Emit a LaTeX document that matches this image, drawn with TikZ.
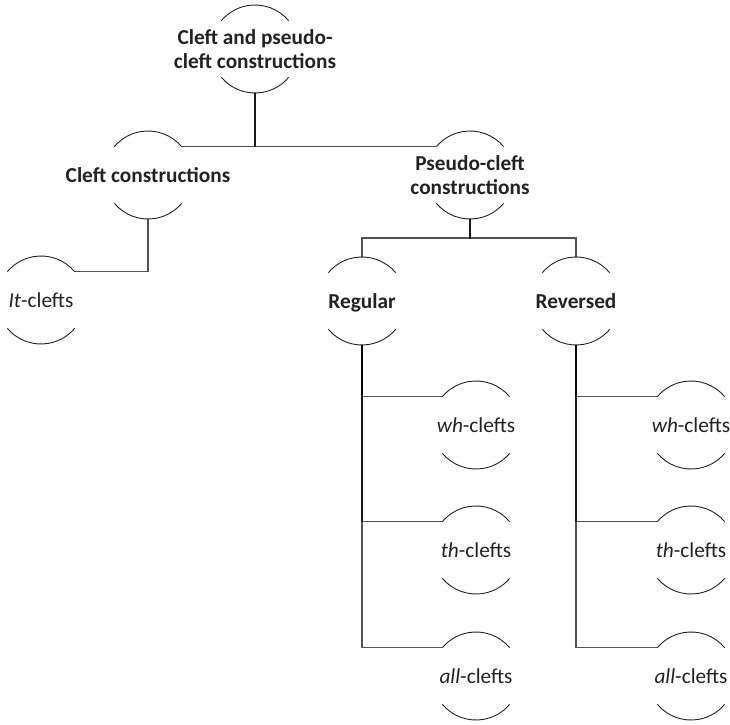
\documentclass[tikz,border=0pt]{standalone}
\usepackage{fontspec}
\setmainfont{Carlito}
\usetikzlibrary{calc}

\definecolor{inkgray}{HTML}{222222}

% a centred, zero-width block of one or more lines; the lines sit 3pt lower
% than the box that the node is centred on
\newcommand\hubtext[1]{\makebox[0pt]{\raisebox{-3pt}[\height][\depth]{\begin{tabular}{@{}c@{}}#1\end{tabular}}}}

\tikzset{
  hub/.style={circle, minimum size=88pt, inner sep=0pt, outer sep=0pt,
    text=inkgray, font=\fontsize{21.3}{23.5}\selectfont},
  boldhub/.style={hub, font=\fontsize{21.3}{23.5}\selectfont\bfseries},
  arcline/.style={draw=inkgray, line width=0.9pt},
  link/.style={draw=black, draw opacity=0.68, line width=1.4pt}
}

\begin{document}
\begin{tikzpicture}[x=1pt, y=1pt]
  \useasboundingbox (0,0) rectangle (730,724);

  % nodes
  \node[boldhub] (root)     at (255,675) {\hubtext{Cleft and pseudo-\\cleft constructions}};
  \node[boldhub] (cleft)    at (148,549) {\hubtext{Cleft constructions}};
  \node[boldhub] (pseudo)   at (470,549) {\hubtext{Pseudo-cleft\\constructions}};
  \node[hub]     (it)       at (41,424)  {\hubtext{\textit{It}-clefts}};
  \node[boldhub] (regular)  at (362,423) {\hubtext{Regular}};
  \node[boldhub] (reversed) at (576,423) {\hubtext{Reversed}};
  \node[hub] (whA)  at (476,299) {\hubtext{\textit{wh}-clefts}};
  \node[hub] (thA)  at (476,174) {\hubtext{\textit{th}-clefts}};
  \node[hub] (allA) at (476,48)  {\hubtext{\textit{all}-clefts}};
  \node[hub] (whB)  at (691,299) {\hubtext{\textit{wh}-clefts}};
  \node[hub] (thB)  at (691,174) {\hubtext{\textit{th}-clefts}};
  \node[hub] (allB) at (691,48)  {\hubtext{\textit{all}-clefts}};

  % upper and lower arcs of every node
  \foreach \n in {root,cleft,pseudo,it,regular,reversed,whA,thA,allA,whB,thB,allB}{
    \draw[arcline] (\n.40) arc[start angle=40, end angle=140, radius=44pt];
    \draw[arcline] (\n.220) arc[start angle=220, end angle=320, radius=44pt];
  }

  % connectors (each drawn separately, so shared trunks look darker)
  \draw[link] (root.south) |- (cleft.40);
  \draw[link] (root.south) |- (pseudo.140);
  \draw[link] (cleft.south) |- (it.40);
  \coordinate (pj) at ($(pseudo.south)+(0,-19)$);
  \draw[link] (pseudo.south) -- (pj) -| (regular.north);
  \draw[link] (pseudo.south) -- (pj) -| (reversed.north);
  \draw[link] (regular.south) |- (whA.140);
  \draw[link] (regular.south) |- (thA.140);
  \draw[link] (regular.south) |- (allA.140);
  \draw[link] (reversed.south) |- (whB.140);
  \draw[link] (reversed.south) |- (thB.140);
  \draw[link] (reversed.south) |- (allB.140);
\end{tikzpicture}
\end{document}
